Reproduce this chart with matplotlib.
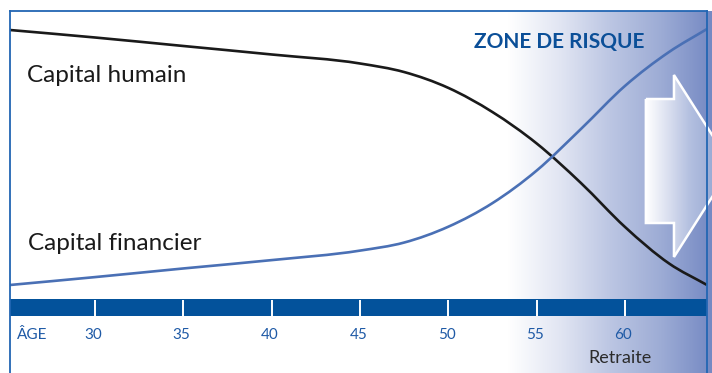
import numpy as np
import matplotlib
matplotlib.use("Agg")
import matplotlib.pyplot as plt
from matplotlib.path import Path
from matplotlib.patches import PathPatch, Polygon
from matplotlib.colors import LinearSegmentedColormap

# ---- data ----
ages = [25.19, 30, 35, 40, 45, 47.5, 50, 52.5, 55, 57.5, 60, 62.5, 64.64]
capital_humain = [93.4, 90.8, 87.85, 84.9, 81.77, 78.8, 73.3, 64.9, 54.0, 40.3, 25.0, 12.3, 4.86]
capital_financier = [4.86, 7.6, 10.6, 13.5, 16.8, 19.6, 25.1, 33.3, 44.6, 59.0, 74.0, 85.8, 93.75]
tick_ages = [30, 35, 40, 45, 50, 55, 60]
tick_labels = ["30", "35", "40", "45", "50", "55", "60"]
age_label = "ÂGE"
retraite_label = "Retraite"
retraite_age = 59.7
zone_label = "ZONE DE RISQUE"
zone_start = 53.4

plt.rcParams['font.family'] = ['Lato', 'DejaVu Sans']

XMIN, XMAX = 25.19, 64.64
YMIN, YMAX = -25.7, 100

fig = plt.figure(figsize=(7.12, 3.73), dpi=100)
fig.patch.set_facecolor('white')
ax = fig.add_axes([10 / 712, 0, 697 / 712, 362 / 373])
ax.set_facecolor('white')


def smooth_path(xs, ys):
    x = np.asarray(xs, float)
    y = np.asarray(ys, float)
    n = len(x)
    h = np.diff(x)
    d = np.diff(y) / h
    m = np.zeros(n)
    m[0] = d[0]
    m[-1] = d[-1]
    for i in range(1, n - 1):
        m[i] = (d[i - 1] * h[i] + d[i] * h[i - 1]) / (h[i - 1] + h[i])
    verts = [(x[0], y[0])]
    codes = [Path.MOVETO]
    for i in range(n - 1):
        verts += [(x[i] + h[i] / 3, y[i] + m[i] * h[i] / 3),
                  (x[i + 1] - h[i] / 3, y[i + 1] - m[i + 1] * h[i] / 3),
                  (x[i + 1], y[i + 1])]
        codes += [Path.CURVE4] * 3
    return Path(verts, codes)


# gradient "zone de risque"
cmap_bg = LinearSegmentedColormap.from_list(
    'bg', ['#ffffff', '#e2e6f3', '#bcc6e3', '#9dacd5', '#7589c3'])
grad = np.linspace(0, 1, 256).reshape(1, -1)
bg = ax.imshow(grad, extent=[zone_start, XMAX + 0.3, YMIN, YMAX], aspect='auto',
               cmap=cmap_bg, zorder=1, interpolation='bicubic')
bg.set_clip_box(fig.bbox)

# arrow
arrow_pts = [(61.18, 69.44), (62.77, 69.44), (62.77, 77.78), (66.05, 46.18),
             (62.77, 14.58), (62.77, 26.39), (61.18, 26.39)]
arrow_clip = Polygon(arrow_pts, closed=True, transform=ax.transData,
                     facecolor='none', edgecolor='none')
cmap_ar = LinearSegmentedColormap.from_list(
    'ar', ['#ffffff', '#dbe0f0', '#b4c0e0', '#9dadd6', '#8a9ccd'])
im = ax.imshow(grad, extent=[61.18, 66.05, 14.58, 77.78], aspect='auto', cmap=cmap_ar,
               zorder=2, interpolation='bicubic')
im.set_clip_path(arrow_clip)
im.set_clip_box(fig.bbox)
ax.add_patch(Polygon(arrow_pts, closed=True, facecolor='none', edgecolor='white',
                     linewidth=1.8, zorder=2.5, clip_on=False, joinstyle='miter'))

# curves
ax.add_patch(PathPatch(smooth_path(ages, capital_humain), facecolor='none',
                       edgecolor='#1a1a1a', linewidth=1.9, zorder=3))
ax.add_patch(PathPatch(smooth_path(ages, capital_financier), facecolor='none',
                       edgecolor='#4a70b5', linewidth=1.9, zorder=3))

# bar with ticks
ax.axhspan(-5.9, 0, color='#03529b', zorder=4, linewidth=0)
ax.vlines(tick_ages, -5.9, -0.4, colors='white', linewidth=1.4, zorder=5)

for a, lab in zip(tick_ages, tick_labels):
    ax.text(a - 0.1, -12.5, lab, ha='center', va='center', fontsize=11,
            color='#1f5aa6', zorder=6)
ax.text(25.59, -12.5, age_label, ha='left', va='center', fontsize=11,
        color='#1f5aa6', zorder=6)
ax.text(retraite_age, -20.6, retraite_label, ha='center', va='center', fontsize=13,
        color='#2b2b2b', zorder=6)

ax.text(26.16, 77.6, "Capital humain", ha='left', va='center', fontsize=17.5,
        color='#1a1a1a', zorder=6)
ax.text(26.2, 19.4, "Capital financier", ha='left', va='center', fontsize=17.5,
        color='#1a1a1a', zorder=6)
ax.text(56.26, 89.2, zone_label, ha='center', va='center', fontsize=15, fontweight='bold',
        color='#0b4f98', zorder=6)

ax.set_xlim(XMIN, XMAX)
ax.set_ylim(YMIN, YMAX)
ax.set_xticks([])
ax.set_yticks([])
for s in ['left', 'top', 'right']:
    ax.spines[s].set_color('#2266b3')
    ax.spines[s].set_linewidth(1.3)
    ax.spines[s].set_zorder(10)
ax.spines['bottom'].set_visible(False)

fig.savefig('out.png', dpi=100)
